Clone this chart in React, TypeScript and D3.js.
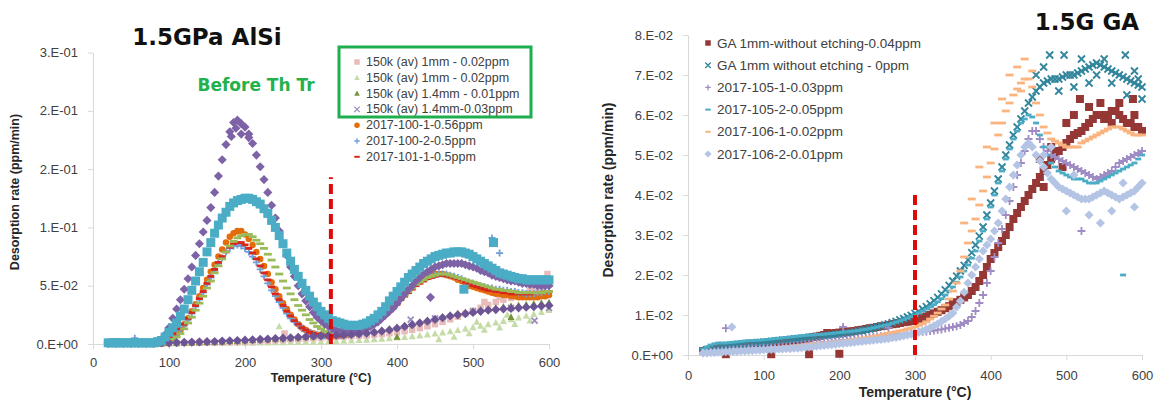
import React, { useEffect, useRef } from 'react';
import * as d3 from 'd3';

// temperature steps (°C)
const temps10 = [
  20, 30, 40, 50, 60, 70, 80, 90, 100, 110,
  120, 130, 140, 150, 160, 170, 180, 190, 200, 210,
  220, 230, 240, 250, 260, 270, 280, 290, 300, 310,
  320, 330, 340, 350, 360, 370, 380, 390, 400, 410,
  420, 430, 440, 450, 460, 470, 480, 490, 500, 510,
  520, 530, 540, 550, 560, 570, 580, 590, 600,
];
const temps5 = [
  20, 25, 30, 35, 40, 45, 50, 55, 60, 65,
  70, 75, 80, 85, 90, 95, 100, 105, 110, 115,
  120, 125, 130, 135, 140, 145, 150, 155, 160, 165,
  170, 175, 180, 185, 190, 195, 200, 205, 210, 215,
  220, 225, 230, 235, 240, 245, 250, 255, 260, 265,
  270, 275, 280, 285, 290, 295, 300, 305, 310, 315,
  320, 325, 330, 335, 340, 345, 350, 355, 360, 365,
  370, 375, 380, 385, 390, 395, 400, 405, 410, 415,
  420, 425, 430, 435, 440, 445, 450, 455, 460, 465,
  470, 475, 480, 485, 490, 495, 500, 505, 510, 515,
  520, 525, 530, 535, 540, 545, 550, 555, 560, 565,
  570, 575, 580, 585, 590, 595, 600,
];

const xTicks = [0, 100, 200, 300, 400, 500, 600];

// ---------- left panel: 1.5GPa AlSi ----------
const leftYTicks = [0, 0.05, 0.1, 0.15, 0.2, 0.25];
const leftYLabels = ['0.E+00', '5.E-02', '1.E-01', '2.E-01', '2.E-01', '3.E-01'];
const leftThreshold = [313, 0.143]; // temperature, top value

const lightGreenTri = [
  0.0002, 0.0002, 0.0002, 0.0003, 0.0003, 0.0003, 0.0004, 0.0004, 0.0005, 0.0005,
  0.0006, 0.0006, 0.0007, 0.0007, 0.0008, 0.0008, 0.0009, 0.0009, 0.001, 0.001,
  0.0011, 0.0012, 0.0013, 0.0014, 0.0015, 0.0016, 0.0017, 0.0018, 0.002, 0.0022,
  0.0024, 0.0026, 0.0029, 0.0032, 0.0035, 0.0039, 0.0043, 0.0048, 0.0053, 0.0059,
  0.0065, 0.0072, 0.008, 0.0088, 0.0097, 0.0107, 0.0118, 0.013, 0.0142, 0.0155,
  0.0168, 0.0182, 0.0196, 0.021, 0.0225, 0.024, 0.0256, 0.0272, 0.029,
];
const lightGreenExtra = [[245, 0.015], [455, 0.004], [475, 0.006], [495, 0.009], [515, 0.012], [535, 0.014], [555, 0.017], [575, 0.02], [505, 0.019], [545, 0.025]];

const pinkSq = [
  0.0003, 0.0003, 0.0004, 0.0004, 0.0005, 0.0005, 0.0006, 0.0006, 0.0007, 0.0008,
  0.0009, 0.001, 0.0011, 0.0012, 0.0013, 0.0014, 0.0016, 0.0018, 0.002, 0.0022,
  0.0025, 0.0028, 0.0031, 0.0035, 0.0039, 0.0043, 0.0047, 0.0051, 0.0055, 0.0058,
  0.0061, 0.0064, 0.0067, 0.007, 0.0074, 0.0079, 0.0085, 0.0092, 0.01, 0.011,
  0.0122, 0.0136, 0.0152, 0.017, 0.019, 0.0212, 0.0235, 0.026, 0.0285, 0.031,
  0.0335, 0.036, 0.038, 0.0395, 0.041, 0.043, 0.045, 0.048, 0.052,
];
const pinkExtra = [[252, 0.009], [322, 0.01], [598, 0.06], [515, 0.036], [535, 0.04], [555, 0.044], [575, 0.047]];

const darkGreenTri = [
  0.0003, 0.0003, 0.0003, 0.0003, 0.0003, 0.0003, 0.0003, 0.0003, 0.0006, 0.0008,
  0.001, 0.0012, 0.0014, 0.0016, 0.0018, 0.002, 0.0023, 0.0026, 0.003, 0.0033,
  0.0036, 0.004, 0.0044, 0.0048, 0.0052, 0.0056, 0.006, 0.0064, 0.0068, 0.0072,
  0.0076, 0.008, 0.0085, 0.009, 0.0098, 0.0107, 0.0118, 0.013, 0.0143, 0.0157,
  0.0172, 0.0187, 0.0202, 0.0218, 0.0233, 0.0247, 0.026, 0.0272, 0.0283, 0.0293,
  0.0302, 0.031, 0.0318, 0.0325, 0.0332, 0.0338, 0.0344, 0.035, 0.0356,
];
const darkGreenExtra = [[400, 0.006], [550, 0.023]];

const lavenderX: number[] = [];
const lavenderXExtra = [[300, 0.007], [350, 0.009], [418, 0.021], [450, 0.022], [500, 0.028], [550, 0.031], [581, 0.02], [600, 0.031]];

const orangeCirc = [
  0.0005, 0.0005, 0.0005, 0.0005, 0.0005, 0.0005, 0.0005, 0.0005, 0.0005, 0.0005,
  0.0005, 0.0005, 0.0005, 0.0005, 0.0005, 0.001, 0.003, 0.005, 0.008, 0.012,
  0.017, 0.022, 0.028, 0.034, 0.041, 0.048, 0.055, 0.062, 0.068, 0.075,
  0.081, 0.087, 0.092, 0.095, 0.097, 0.097, 0.094, 0.09, 0.085, 0.079,
  0.073, 0.067, 0.06, 0.053, 0.047, 0.041, 0.035, 0.03, 0.025, 0.021,
  0.017, 0.014, 0.012, 0.01, 0.009, 0.008, 0.008, 0.007, 0.007, 0.007,
  0.007, 0.007, 0.008, 0.008, 0.009, 0.01, 0.011, 0.012, 0.014, 0.016,
  0.018, 0.021, 0.024, 0.027, 0.03, 0.033, 0.037, 0.041, 0.044, 0.047,
  0.05, 0.053, 0.055, 0.057, 0.058, 0.059, 0.06, 0.06, 0.06, 0.059,
  0.058, 0.057, 0.055, 0.054, 0.052, 0.05, 0.049, 0.048, 0.047, 0.046,
  0.045, 0.044, 0.043, 0.043, 0.042, 0.042, 0.041, 0.041, 0.04, 0.04,
  0.04, 0.04, 0.04, 0.04, 0.041, 0.041, 0.042,
];

const bluePlus = [
  0.0005, 0.0005, 0.0005, 0.0005, 0.0005, 0.0005, 0.0005, 0.0005, 0.0005, 0.0005,
  0.0005, 0.0005, 0.0005, 0.0005, 0.0005, 0.001, 0.003, 0.005, 0.008, 0.012,
  0.016, 0.021, 0.026, 0.032, 0.038, 0.044, 0.051, 0.057, 0.063, 0.069,
  0.074, 0.079, 0.082, 0.084, 0.085, 0.084, 0.082, 0.079, 0.075, 0.07,
  0.064, 0.058, 0.052, 0.046, 0.041, 0.036, 0.031, 0.026, 0.022, 0.019,
  0.016, 0.013, 0.011, 0.01, 0.009, 0.008, 0.007, 0.007, 0.007, 0.007,
  0.007, 0.007, 0.008, 0.008, 0.009, 0.01, 0.011, 0.012, 0.014, 0.016,
  0.018, 0.02, 0.023, 0.026, 0.029, 0.032, 0.036, 0.04, 0.043, 0.046,
  0.049, 0.052, 0.054, 0.056, 0.057, 0.058, 0.059, 0.06, 0.06, 0.06,
  0.059, 0.058, 0.057, 0.056, 0.054, 0.053, 0.052, 0.051, 0.05, 0.049,
  0.048, 0.048, 0.047, 0.047, 0.046, 0.046, 0.045, 0.045, 0.044, 0.044,
  0.043, 0.043, 0.043, 0.044, 0.044, 0.045, 0.045,
];
const bluePlusExtra = [[55, 0.005], [525, 0.091], [535, 0.078]];

const redDash = [
  0.0005, 0.0005, 0.0005, 0.0005, 0.0005, 0.0005, 0.0005, 0.0005, 0.0005, 0.0005,
  0.0005, 0.0005, 0.0005, 0.0005, 0.0005, 0.001, 0.003, 0.006, 0.009, 0.013,
  0.017, 0.022, 0.027, 0.033, 0.039, 0.045, 0.052, 0.058, 0.064, 0.07,
  0.075, 0.079, 0.083, 0.086, 0.087, 0.087, 0.085, 0.082, 0.078, 0.073,
  0.067, 0.061, 0.055, 0.049, 0.043, 0.038, 0.033, 0.028, 0.024, 0.02,
  0.017, 0.014, 0.012, 0.01, 0.009, 0.008, 0.008, 0.007, 0.007, 0.007,
  0.007, 0.007, 0.008, 0.008, 0.009, 0.01, 0.011, 0.012, 0.013, 0.015,
  0.017, 0.019, 0.022, 0.025, 0.028, 0.031, 0.034, 0.038, 0.041, 0.044,
  0.047, 0.05, 0.052, 0.054, 0.056, 0.057, 0.058, 0.059, 0.059, 0.059,
  0.058, 0.057, 0.056, 0.055, 0.053, 0.052, 0.05, 0.049, 0.048, 0.047,
  0.046, 0.046, 0.045, 0.045, 0.044, 0.044, 0.043, 0.043, 0.043, 0.043,
  0.043, 0.043, 0.044, 0.044, 0.044, 0.045, 0.045,
];

const greenDash = [
  0.001, 0.001, 0.004, 0.001, 0.001, 0.001, 0.001, 0.001, 0.001, 0.001,
  0.001, 0.001, 0.001, 0.001, 0.001, 0.001, 0.002, 0.004, 0.006, 0.009,
  0.013, 0.018, 0.023, 0.029, 0.035, 0.041, 0.048, 0.054, 0.061, 0.067,
  0.073, 0.079, 0.084, 0.088, 0.091, 0.093, 0.094, 0.094, 0.092, 0.089,
  0.086, 0.082, 0.077, 0.072, 0.066, 0.06, 0.054, 0.048, 0.043, 0.038,
  0.033, 0.029, 0.025, 0.021, 0.018, 0.015, 0.013, 0.011, 0.01, 0.009,
  0.009, 0.009, 0.009, 0.009, 0.01, 0.01, 0.011, 0.012, 0.013, 0.015,
  0.017, 0.019, 0.022, 0.025, 0.028, 0.031, 0.035, 0.039, 0.042, 0.045,
  0.048, 0.051, 0.053, 0.055, 0.057, 0.058, 0.059, 0.06, 0.06, 0.06,
  0.059, 0.058, 0.057, 0.056, 0.055, 0.054, 0.053, 0.052, 0.051, 0.05,
  0.049, 0.048, 0.047, 0.047, 0.046, 0.046, 0.045, 0.045, 0.044, 0.044,
  0.044, 0.044, 0.044, 0.044, 0.044, 0.045, 0.045,
];

const purplePeak = [
  0.001, 0.001, 0.001, 0.001, 0.001, 0.001, 0.001, 0.001, 0.001, 0.001,
  0.001, 0.001, 0.001, 0.002, 0.004, 0.008, 0.014, 0.022, 0.03, 0.038,
  0.047, 0.056, 0.066, 0.076, 0.086, 0.096, 0.106, 0.117, 0.13, 0.144,
  0.158, 0.171, 0.182, 0.19, 0.192, 0.189, 0.186, 0.18, 0.172, 0.162,
  0.152, 0.141, 0.13, 0.119, 0.108, 0.097, 0.086, 0.076, 0.066, 0.058,
  0.05, 0.043, 0.037, 0.032, 0.027, 0.023, 0.02, 0.017, 0.015, 0.013,
  0.012, 0.011, 0.011, 0.011, 0.011, 0.011, 0.012, 0.013, 0.014, 0.015,
  0.017, 0.019, 0.022, 0.025, 0.028, 0.031, 0.035, 0.039, 0.043, 0.047,
  0.05, 0.054, 0.057, 0.06, 0.062, 0.064, 0.066, 0.067, 0.068, 0.069,
  0.069, 0.069, 0.069, 0.069, 0.068, 0.067, 0.066, 0.065, 0.063, 0.062,
  0.061, 0.059, 0.058, 0.057, 0.056, 0.055, 0.054, 0.054, 0.053, 0.052,
  0.052, 0.051, 0.051, 0.05, 0.05, 0.05, 0.05,
];
const purplePeakExtra = [[444, 0.04], [182, 0.178], [195, 0.18], [205, 0.177], [188, 0.185]];

const purpleBase = [
  0.0005, 0.0005, 0.0005, 0.0005, 0.0005, 0.0005, 0.0005, 0.001, 0.001, 0.0012,
  0.0014, 0.0016, 0.0018, 0.002, 0.0022, 0.0025, 0.0028, 0.003, 0.0033, 0.0036,
  0.004, 0.0043, 0.0047, 0.005, 0.0054, 0.0058, 0.0062, 0.0066, 0.007, 0.0072,
  0.0075, 0.0078, 0.0082, 0.0087, 0.0093, 0.01, 0.011, 0.012, 0.0135, 0.015,
  0.0165, 0.018, 0.0195, 0.021, 0.0225, 0.024, 0.025, 0.026, 0.027, 0.028,
  0.029, 0.0295, 0.03, 0.0305, 0.031, 0.0315, 0.032, 0.0325, 0.033,
];

const cyanSq = [
  0.001, 0.001, 0.001, 0.001, 0.001, 0.001, 0.001, 0.001, 0.001, 0.001,
  0.001, 0.001, 0.001, 0.002, 0.003, 0.006, 0.01, 0.014, 0.018, 0.024,
  0.03, 0.038, 0.046, 0.054, 0.062, 0.07, 0.079, 0.087, 0.095, 0.102,
  0.108, 0.113, 0.118, 0.121, 0.123, 0.124, 0.125, 0.125, 0.124, 0.122,
  0.12, 0.116, 0.112, 0.106, 0.1, 0.093, 0.086, 0.078, 0.071, 0.064,
  0.058, 0.052, 0.046, 0.041, 0.036, 0.032, 0.028, 0.025, 0.022, 0.02,
  0.019, 0.018, 0.017, 0.016, 0.016, 0.016, 0.016, 0.017, 0.018, 0.02,
  0.022, 0.025, 0.028, 0.032, 0.037, 0.041, 0.045, 0.049, 0.053, 0.057,
  0.06, 0.063, 0.066, 0.069, 0.071, 0.073, 0.075, 0.076, 0.077, 0.078,
  0.078, 0.079, 0.079, 0.079, 0.078, 0.077, 0.075, 0.073, 0.071, 0.069,
  0.067, 0.065, 0.063, 0.061, 0.06, 0.059, 0.058, 0.057, 0.056, 0.056,
  0.055, 0.055, 0.055, 0.055, 0.055, 0.055, 0.055,
];
const cyanSqExtra = [[488, 0.047], [527, 0.087]];

// ---------- right panel: 1.5G GA ----------
const rightYTicks = [0, 0.01, 0.02, 0.03, 0.04, 0.05, 0.06, 0.07, 0.08];
const rightYLabels = ['0.E+00', '1.E-02', '2.E-02', '3.E-02', '4.E-02', '5.E-02', '6.E-02', '7.E-02', '8.E-02'];
const rightThreshold = [300, 0.0408];

const darkRedSq = [
  0.001, 0.0012, 0.0015, 0.0017, 0.0018, 0.0019, 0.002, 0.0021, 0.0022, 0.0023,
  0.0024, 0.0025, 0.0026, 0.0027, 0.0028, 0.0029, 0.003, 0.003, 0.0031, 0.0032,
  0.0033, 0.0034, 0.0035, 0.0036, 0.0037, 0.0038, 0.004, 0.0041, 0.0043, 0.0045,
  0.0046, 0.0048, 0.005, 0.0052, 0.0053, 0.0055, 0.0056, 0.0057, 0.0058, 0.0059,
  0.006, 0.0062, 0.0063, 0.0065, 0.0067, 0.0068, 0.007, 0.0072, 0.0073, 0.0075,
  0.0077, 0.0078, 0.008, 0.0082, 0.0083, 0.0085, 0.0087, 0.009, 0.0093, 0.0096,
  0.01, 0.0104, 0.0108, 0.0112, 0.0117, 0.0122, 0.0127, 0.0132, 0.0138, 0.0144,
  0.015, 0.016, 0.017, 0.0185, 0.02, 0.022, 0.024, 0.0255, 0.027, 0.0285,
  0.03, 0.032, 0.034, 0.0355, 0.037, 0.0385, 0.04, 0.0415, 0.043, 0.0445,
  0.046, 0.0475, 0.049, 0.05, 0.051, 0.052, 0.053, 0.054, 0.055, 0.0555,
  0.056, 0.057, 0.058, 0.059, 0.06, 0.06, 0.059, 0.06, 0.061, 0.061,
  0.06, 0.059, 0.058, 0.058, 0.057, 0.057, 0.056,
];
const darkRedExtra = [
  [518, 0.064], [588, 0.064], [50, 0.0002], [110, 0.0002], [160, 0.0002], [200, 0.0003],
  [480, 0.052], [500, 0.058], [510, 0.06], [530, 0.062], [545, 0.063], [560, 0.058],
  [570, 0.063], [590, 0.06], [495, 0.047], [465, 0.049], [470, 0.042], [184, 0.0055],
];

const tealX = [
  0.001, 0.0013, 0.0015, 0.0018, 0.002, 0.0021, 0.0022, 0.0023, 0.0024, 0.0025,
  0.0026, 0.0027, 0.0028, 0.0029, 0.003, 0.0031, 0.0032, 0.0033, 0.0034, 0.0035,
  0.0036, 0.0037, 0.0038, 0.0039, 0.004, 0.0041, 0.0042, 0.0043, 0.0044, 0.0045,
  0.0046, 0.0047, 0.0048, 0.0049, 0.005, 0.0051, 0.0052, 0.0053, 0.0055, 0.0056,
  0.0058, 0.006, 0.0061, 0.0063, 0.0065, 0.0067, 0.007, 0.0072, 0.0075, 0.0078,
  0.0081, 0.0084, 0.0088, 0.0091, 0.0095, 0.0099, 0.0104, 0.0109, 0.0115, 0.0121,
  0.0128, 0.0136, 0.0144, 0.0153, 0.0163, 0.0174, 0.0185, 0.0197, 0.021, 0.0224,
  0.0238, 0.0256, 0.0275, 0.0297, 0.032, 0.035, 0.038, 0.041, 0.044, 0.047,
  0.05, 0.0525, 0.055, 0.057, 0.059, 0.061, 0.063, 0.0645, 0.066, 0.067,
  0.068, 0.0685, 0.069, 0.069, 0.069, 0.0695, 0.07, 0.07, 0.07, 0.0705,
  0.071, 0.0715, 0.072, 0.0725, 0.073, 0.0725, 0.072, 0.0715, 0.071, 0.0705,
  0.07, 0.0695, 0.069, 0.0685, 0.068, 0.0675, 0.067,
];
const tealXExtra = [
  [478, 0.075], [497, 0.075], [578, 0.075], [460, 0.07], [470, 0.072], [490, 0.066],
  [510, 0.067], [520, 0.074], [530, 0.068], [540, 0.07], [550, 0.074], [560, 0.068],
  [580, 0.065], [590, 0.071], [600, 0.064], [595, 0.069],
];

const lavPlus = [
  0.0005, 0.0007, 0.0008, 0.0009, 0.001, 0.0011, 0.0012, 0.0013, 0.0014, 0.0014,
  0.0015, 0.0015, 0.0016, 0.0016, 0.0017, 0.0017, 0.0018, 0.0018, 0.0019, 0.0019,
  0.002, 0.0021, 0.0022, 0.0023, 0.0024, 0.0025, 0.0026, 0.0027, 0.0028, 0.0029,
  0.003, 0.0031, 0.0032, 0.0033, 0.0034, 0.0035, 0.0036, 0.0037, 0.0038, 0.0039,
  0.004, 0.0041, 0.0042, 0.0043, 0.0044, 0.0045, 0.0046, 0.0047, 0.0048, 0.0049,
  0.005, 0.0051, 0.0052, 0.0053, 0.0054, 0.0055, 0.0056, 0.0057, 0.0058, 0.0059,
  0.006, 0.0061, 0.0063, 0.0064, 0.0066, 0.0068, 0.007, 0.0072, 0.0075, 0.008,
  0.0085, 0.0095, 0.011, 0.013, 0.015, 0.018, 0.021, 0.0245, 0.028, 0.0315,
  0.035, 0.0385, 0.042, 0.045, 0.048, 0.051, 0.054, 0.056, 0.056, 0.054,
  0.052, 0.051, 0.05, 0.0495, 0.049, 0.0485, 0.048, 0.0475, 0.047, 0.0465,
  0.046, 0.0455, 0.045, 0.0445, 0.044, 0.0445, 0.045, 0.0455, 0.046, 0.047,
  0.048, 0.0485, 0.049, 0.0495, 0.05, 0.0505, 0.051,
];
const lavPlusExtra = [[50, 0.0067], [205, 0.007], [265, 0.0068], [520, 0.031]];

const cyanDash = [
  0.0015, 0.002, 0.0025, 0.0028, 0.003, 0.003, 0.003, 0.0031, 0.0032, 0.0033,
  0.0034, 0.0035, 0.0036, 0.0036, 0.0037, 0.0037, 0.0038, 0.0039, 0.004, 0.0041,
  0.0042, 0.0043, 0.0044, 0.0045, 0.0046, 0.0047, 0.0048, 0.0049, 0.005, 0.005,
  0.0051, 0.0051, 0.0052, 0.0053, 0.0054, 0.0055, 0.0056, 0.0057, 0.0058, 0.0059,
  0.006, 0.0061, 0.0063, 0.0064, 0.0066, 0.0068, 0.007, 0.0072, 0.0074, 0.0076,
  0.0079, 0.0082, 0.0085, 0.0088, 0.0092, 0.0096, 0.01, 0.0105, 0.011, 0.0115,
  0.012, 0.0126, 0.0133, 0.0141, 0.015, 0.016, 0.017, 0.0182, 0.0195, 0.021,
  0.0225, 0.0242, 0.026, 0.0285, 0.031, 0.034, 0.037, 0.04, 0.043, 0.046,
  0.049, 0.0515, 0.054, 0.056, 0.058, 0.059, 0.06, 0.0595, 0.058, 0.055,
  0.052, 0.05, 0.048, 0.047, 0.046, 0.0455, 0.045, 0.0445, 0.044, 0.044,
  0.044, 0.0435, 0.043, 0.043, 0.043, 0.0435, 0.044, 0.0445, 0.045, 0.0455,
  0.046, 0.0465, 0.047, 0.0475, 0.048, 0.049, 0.05,
];
const cyanDashExtra = [[575, 0.02]];

const orangeDash = [
  0.0003, 0.0004, 0.0005, 0.0007, 0.0008, 0.0009, 0.001, 0.0011, 0.0012, 0.0012,
  0.0013, 0.0013, 0.0014, 0.0014, 0.0015, 0.0015, 0.0016, 0.0016, 0.0017, 0.0017,
  0.0018, 0.0019, 0.002, 0.0021, 0.0022, 0.0023, 0.0024, 0.0025, 0.0026, 0.0027,
  0.0028, 0.0029, 0.003, 0.0031, 0.0032, 0.0033, 0.0034, 0.0035, 0.0036, 0.0037,
  0.0039, 0.004, 0.0042, 0.0043, 0.0045, 0.0046, 0.0048, 0.005, 0.0052, 0.0054,
  0.0056, 0.0058, 0.006, 0.0062, 0.0065, 0.0067, 0.007, 0.0074, 0.0078, 0.0083,
  0.009, 0.0097, 0.0105, 0.0115, 0.0125, 0.014, 0.016, 0.018, 0.021, 0.0245,
  0.028, 0.031, 0.034, 0.0375, 0.041, 0.0445, 0.048, 0.0515, 0.055, 0.058,
  0.061, 0.063, 0.065, 0.0665, 0.068, 0.069, 0.069, 0.067, 0.063, 0.06,
  0.057, 0.0555, 0.054, 0.0535, 0.053, 0.0525, 0.052, 0.052, 0.052, 0.052,
  0.053, 0.0535, 0.054, 0.0545, 0.055, 0.0555, 0.056, 0.0565, 0.057, 0.057,
  0.057, 0.0565, 0.056, 0.0555, 0.055, 0.055, 0.055,
];
const orangeDashExtra = [
  [425, 0.07], [435, 0.072], [445, 0.074], [440, 0.066], [455, 0.071], [415, 0.064],
  [405, 0.058], [395, 0.052], [385, 0.047], [375, 0.039], [365, 0.033],
];

const periDiamond = [
  0.0005, 0.0005, 0.0006, 0.0006, 0.0007, 0.0007, 0.0008, 0.0008, 0.0009, 0.0009,
  0.001, 0.001, 0.0011, 0.0011, 0.0012, 0.0012, 0.0013, 0.0013, 0.0014, 0.0014,
  0.0015, 0.0015, 0.0016, 0.0016, 0.0017, 0.0017, 0.0018, 0.0019, 0.002, 0.0021,
  0.0022, 0.0023, 0.0024, 0.0025, 0.0026, 0.0027, 0.0028, 0.0029, 0.003, 0.0031,
  0.0032, 0.0033, 0.0034, 0.0035, 0.0036, 0.0037, 0.0038, 0.0039, 0.004, 0.0041,
  0.0043, 0.0044, 0.0046, 0.0048, 0.005, 0.0052, 0.0055, 0.0057, 0.006, 0.0064,
  0.0068, 0.0073, 0.0078, 0.0084, 0.009, 0.0097, 0.0105, 0.012, 0.0135, 0.0157,
  0.018, 0.02, 0.022, 0.024, 0.026, 0.0275, 0.029, 0.031, 0.033, 0.036,
  0.039, 0.042, 0.045, 0.0475, 0.05, 0.052, 0.053, 0.052, 0.05, 0.0485,
  0.047, 0.0455, 0.044, 0.043, 0.042, 0.0415, 0.041, 0.0405, 0.04, 0.0395,
  0.039, 0.039, 0.039, 0.0395, 0.04, 0.0405, 0.041, 0.0405, 0.04, 0.0395,
  0.039, 0.0395, 0.04, 0.0405, 0.041, 0.042, 0.043,
];
const periDiamondExtra = [[58, 0.007], [500, 0.036], [510, 0.045], [530, 0.035], [545, 0.033], [560, 0.036], [575, 0.043], [590, 0.037], [470, 0.05], [480, 0.052]];

const FONT = '"Liberation Sans", Arial, sans-serif';
const stroked = new Set(['plus', 'cross', 'dash']);

function markerPath(shape: string, s: number): string {
  const r = s / 2;
  switch (shape) {
    case 'square':
      return `M${-r},${-r}h${s}v${s}h${-s}Z`;
    case 'diamond':
      return `M0,${-r * 1.3}L${r * 1.3},0L0,${r * 1.3}L${-r * 1.3},0Z`;
    case 'triangle':
      return `M0,${-r * 1.1}L${r},${r * 0.8}L${-r},${r * 0.8}Z`;
    case 'circle':
      return d3.symbol(d3.symbolCircle, Math.PI * r * r)() as string;
    case 'plus':
      return `M${-r},0H${r}M0,${-r}V${r}`;
    case 'cross':
      return `M${-r},${-r}L${r},${r}M${-r},${r}L${r},${-r}`;
    default:
      return `M${-r},0H${r}`;
  }
}

function drawPanel(svg: any, p: any) {
  const x = d3.scaleLinear().domain([0, 600]).range(p.xRange);
  const y = d3.scaleLinear().domain([0, p.yMax]).range(p.yRange);

  const yAxis = svg
    .append('g')
    .attr('transform', `translate(${p.xRange[0]},0)`)
    .call(
      d3
        .axisLeft(y)
        .tickValues(p.yTicks)
        .tickFormat((_d: any, i: number) => p.yLabels[i])
        .tickSize(5)
        .tickSizeOuter(0)
        .tickPadding(10)
    );
  const xAxis = svg
    .append('g')
    .attr('transform', `translate(0,${p.yRange[0]})`)
    .call(d3.axisBottom(x).tickValues(xTicks).tickSize(5).tickSizeOuter(0).tickPadding(p.xPad));
  [yAxis, xAxis].forEach((ax) => {
    ax.select('.domain').attr('stroke', '#d9d9d9');
    ax.selectAll('.tick line').attr('stroke', '#d9d9d9');
    ax.selectAll('.tick text').attr('fill', '#404040').attr('font-size', 13).attr('font-family', FONT);
  });

  // series, first drawn ends up at the back
  p.series.forEach((s: any) => {
    const pts = s.values.map((v: number, i: number) => [s.temps[i], v]).concat(s.extra || []);
    const isStroke = stroked.has(s.shape);
    svg
      .append('g')
      .selectAll('path')
      .data(pts)
      .join('path')
      .attr('d', markerPath(s.shape, s.size))
      .attr('transform', (d: number[]) => `translate(${x(d[0])},${y(d[1])})`)
      .attr('fill', isStroke ? 'none' : s.color)
      .attr('stroke', isStroke ? s.color : 'none')
      .attr('stroke-width', s.shape === 'dash' ? 2.8 : 1.8);
  });

  // threshold
  svg
    .append('line')
    .attr('x1', x(p.threshold[0]))
    .attr('x2', x(p.threshold[0]))
    .attr('y1', y(0))
    .attr('y2', y(p.threshold[1]))
    .attr('stroke', '#dd0a0a')
    .attr('stroke-width', 4)
    .attr('stroke-dasharray', '10,5');

  // axis titles
  svg
    .append('text')
    .attr('x', (p.xRange[0] + p.xRange[1]) / 2)
    .attr('y', p.xTitleY)
    .attr('text-anchor', 'middle')
    .attr('font-family', FONT)
    .attr('font-weight', 'bold')
    .attr('font-size', p.titleSize)
    .attr('fill', '#262626')
    .text('Temperature (°C)');
  svg
    .append('text')
    .attr('transform', `translate(${p.yTitleX},${p.yTitleY}) rotate(-90)`)
    .attr('text-anchor', 'middle')
    .attr('dominant-baseline', 'middle')
    .attr('font-family', FONT)
    .attr('font-weight', 'bold')
    .attr('font-size', p.titleSize)
    .attr('fill', '#262626')
    .text('Desorption rate (ppm/min)');

  // legend
  const lg = svg.append('g').attr('font-family', FONT).attr('font-size', p.legendFont).attr('fill', '#404040');
  p.series
    .filter((s: any) => s.label)
    .sort((a: any, b: any) => a.order - b.order)
    .forEach((s: any, i: number) => {
      const ly = p.legendY + i * p.legendStep;
      const isStroke = stroked.has(s.shape);
      lg.append('path')
        .attr('d', markerPath(s.shape, 5.5))
        .attr('transform', `translate(${p.legendX},${ly})`)
        .attr('fill', isStroke ? 'none' : s.color)
        .attr('stroke', isStroke ? s.color : 'none')
        .attr('stroke-width', s.shape === 'dash' ? 2 : 1.3);
      lg.append('text')
        .attr('x', p.legendX + 9)
        .attr('y', ly)
        .attr('dominant-baseline', 'central')
        .text(s.label);
    });
}

export default function App() {
  const svgRef = useRef<SVGSVGElement>(null);

  useEffect(() => {
    const svg = d3.select(svgRef.current);
    svg.selectAll('*').remove();

    drawPanel(svg, {
      xRange: [93, 549],
      yRange: [344, 52.5],
      yMax: 0.25,
      yTicks: leftYTicks,
      yLabels: leftYLabels,
      xPad: 9,
      threshold: leftThreshold,
      xTitleY: 382,
      yTitleX: 16,
      yTitleY: 192,
      titleSize: 12.5,
      legendX: 357,
      legendY: 62,
      legendStep: 15.8,
      legendFont: 12.5,
      series: [
        { temps: temps10, values: lightGreenTri, extra: lightGreenExtra, shape: 'triangle', color: '#c6dca8', size: 7, label: '150k (av) 1mm - 0.02ppm', order: 2 },
        { temps: temps10, values: pinkSq, extra: pinkExtra, shape: 'square', color: '#e8bcbb', size: 6.5, label: '150k (av) 1mm - 0.02ppm', order: 1 },
        { temps: temps10, values: darkGreenTri, extra: darkGreenExtra, shape: 'triangle', color: '#76923c', size: 7, label: '150k (av) 1.4mm - 0.01ppm', order: 3 },
        { temps: temps10, values: lavenderX, extra: lavenderXExtra, shape: 'cross', color: '#9d8bc0', size: 6, label: '150k (av) 1.4mm-0.03ppm', order: 4 },
        { temps: temps5, values: orangeCirc, shape: 'circle', color: '#e46c0a', size: 6.5, label: '2017-100-1-0.56ppm', order: 5 },
        { temps: temps5, values: bluePlus, extra: bluePlusExtra, shape: 'plus', color: '#6f9fd8', size: 7, label: '2017-100-2-0.5ppm', order: 6 },
        { temps: temps5, values: redDash, shape: 'dash', color: '#d9261c', size: 7, label: '2017-101-1-0.5ppm', order: 7 },
        { temps: temps5, values: greenDash, shape: 'dash', color: '#9bbb59', size: 8 },
        { temps: temps5, values: purplePeak, extra: purplePeakExtra, shape: 'diamond', color: '#7e62a6', size: 7 },
        { temps: temps10, values: purpleBase, shape: 'diamond', color: '#6d5495', size: 7 },
        { temps: temps5, values: cyanSq, extra: cyanSqExtra, shape: 'square', color: '#4bacc6', size: 9 },
      ],
    });

    drawPanel(svg, {
      xRange: [688, 1142],
      yRange: [355, 35],
      yMax: 0.08,
      yTicks: rightYTicks,
      yLabels: rightYLabels,
      xPad: 11,
      threshold: rightThreshold,
      xTitleY: 397,
      yTitleX: 609,
      yTitleY: 190,
      titleSize: 14,
      legendX: 708,
      legendY: 43,
      legendStep: 22.2,
      legendFont: 13.5,
      series: [
        { temps: temps5, values: darkRedSq, extra: darkRedExtra, shape: 'square', color: '#953735', size: 8, label: 'GA 1mm-without etching-0.04ppm', order: 1 },
        { temps: temps5, values: tealX, extra: tealXExtra, shape: 'cross', color: '#31859c', size: 7, label: 'GA 1mm without etching - 0ppm', order: 2 },
        { temps: temps5, values: lavPlus, extra: lavPlusExtra, shape: 'plus', color: '#a08cc4', size: 8, label: '2017-105-1-0.03ppm', order: 3 },
        { temps: temps5, values: cyanDash, extra: cyanDashExtra, shape: 'dash', color: '#4bacc6', size: 6, label: '2017-105-2-0.05ppm', order: 4 },
        { temps: temps5, values: orangeDash, extra: orangeDashExtra, shape: 'dash', color: '#fab47f', size: 8, label: '2017-106-1-0.02ppm', order: 5 },
        { temps: temps5, values: periDiamond, extra: periDiamondExtra, shape: 'diamond', color: '#b4c4e4', size: 7, label: '2017-106-2-0.01ppm', order: 6 },
      ],
    });

    // left annotations
    svg.append('rect')
      .attr('x', 339).attr('y', 47).attr('width', 192).attr('height', 70)
      .attr('fill', 'none').attr('stroke', '#1fae4f').attr('stroke-width', 3);
    svg.append('text')
      .attr('x', 207).attr('y', 45).attr('text-anchor', 'middle')
      .attr('font-family', '"DejaVu Sans", sans-serif').attr('font-weight', 'bold').attr('font-size', 23)
      .attr('fill', '#111').text('1.5GPa AlSi');
    svg.append('text')
      .attr('x', 256).attr('y', 91).attr('text-anchor', 'middle')
      .attr('font-family', '"DejaVu Sans", sans-serif').attr('font-weight', 'bold').attr('font-size', 17)
      .attr('fill', '#22b14c').text('Before Th Tr');
    svg.append('text')
      .attr('x', 1087).attr('y', 30).attr('text-anchor', 'middle')
      .attr('font-family', '"DejaVu Sans", sans-serif').attr('font-weight', 'bold').attr('font-size', 23)
      .attr('fill', '#111').text('1.5G GA');
  }, []);

  return (
    <svg
      ref={svgRef}
      width={1161}
      height={400}
      style={{ position: 'absolute', left: 0, top: 0, background: '#fff' }}
    ></svg>
  );
}
